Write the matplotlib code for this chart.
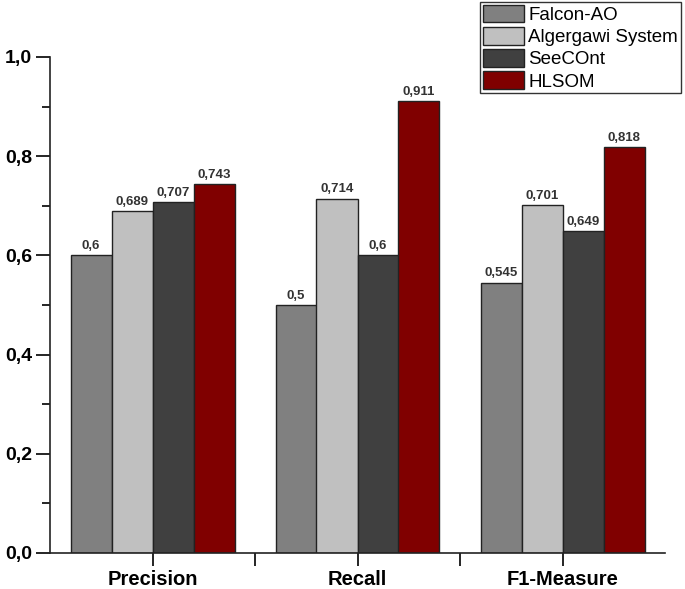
import matplotlib
matplotlib.use("Agg")
import matplotlib.pyplot as plt
from matplotlib.ticker import FuncFormatter, MultipleLocator, FixedLocator
import numpy as np

plt.rcParams['font.family'] = ['Liberation Sans', 'DejaVu Sans']

categories = ["Precision", "Recall", "F1-Measure"]
series_names = ["Falcon-AO", "Algergawi System", "SeeCOnt", "HLSOM"]
falcon = [0.6, 0.5, 0.545]
algergawi = [0.689, 0.714, 0.701]
seecont = [0.707, 0.6, 0.649]
hlsom = [0.743, 0.911, 0.818]
colors = ["#808080", "#c0c0c0", "#404040", "#800000"]

series = [falcon, algergawi, seecont, hlsom]

fig = plt.figure(figsize=(6.85, 5.89), dpi=100)
ax = fig.add_axes([50/685, 36/589, (665-50)/685, (553-57)/589])

x = np.arange(1, len(categories) + 1)
w = 0.2
for i, (vals, name, c) in enumerate(zip(series, series_names, colors)):
    pos = x + (i - 1.5) * w
    ax.bar(pos, vals, width=w, color=c, edgecolor="#222222", linewidth=1.0, label=name)
    for p, v in zip(pos, vals):
        ax.annotate(f"{v:g}".replace(".", ","), xy=(p, v), xytext=(0, 2.5),
                    textcoords="offset points", ha="center", va="bottom",
                    fontsize=9.5, fontweight="bold", color="#333333")

ax.set_xlim(0.5, 3.5)
ax.set_ylim(0, 1.0)
ax.yaxis.set_major_locator(MultipleLocator(0.2))
ax.yaxis.set_minor_locator(MultipleLocator(0.1))
ax.yaxis.set_major_formatter(FuncFormatter(lambda v, p: f"{v:.1f}".replace(".", ",")))
ax.set_xticks(x)
ax.set_xticklabels(categories, fontsize=14.5, fontweight="bold")
ax.xaxis.set_minor_locator(FixedLocator([1.5, 2.5]))
for lab in ax.get_yticklabels():
    lab.set_fontweight("bold")
    lab.set_fontsize(14)

ax.tick_params(axis="y", which="major", direction="out", length=10, width=1.2, pad=3)
ax.tick_params(axis="y", which="minor", direction="out", length=6, width=1.2)
ax.tick_params(axis="x", which="major", direction="out", length=9, width=1.2, pad=3)
ax.tick_params(axis="x", which="minor", direction="out", length=9, width=1.2)

for s in ["top", "right"]:
    ax.spines[s].set_visible(False)
for s in ["left", "bottom"]:
    ax.spines[s].set_linewidth(1.2)
    ax.spines[s].set_color("#222222")

leg = fig.legend(loc="upper right", bbox_to_anchor=(681/685, 1 - 2/589),
                 bbox_transform=fig.transFigure,
                 fontsize=13.5, frameon=True, fancybox=False, edgecolor="black",
                 handlelength=2.2, handleheight=1.07, handletextpad=0.25,
                 labelspacing=0.16, borderpad=0.15, borderaxespad=0)
leg.get_frame().set_linewidth(1.0)

fig.savefig("out.png", dpi=100)
